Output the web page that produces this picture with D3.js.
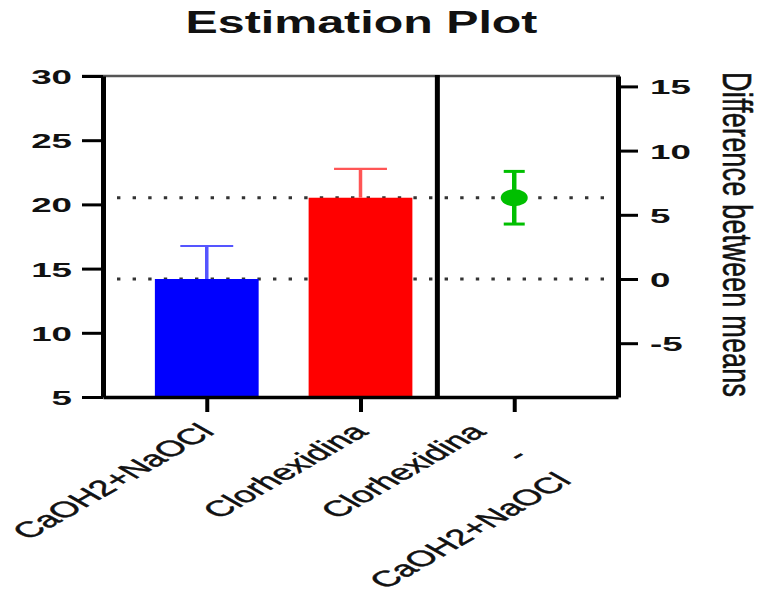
<!DOCTYPE html>
<html>
<head>
<meta charset="utf-8">
<script src="https://cdn.jsdelivr.net/npm/d3@7"></script>
<style>
  html, body { margin: 0; padding: 0; background: #fff; }
  svg { display: block; font-family: "Liberation Sans", Arial, Helvetica, sans-serif; }
</style>
</head>
<body>
<svg id="chart" width="762" height="604"></svg>
<script>
// Group summary values
const groups = ["CaOH2+NaOCl", "Clorhexidina"];
const groupMeans = [14.19, 20.52];
const groupErrors = [2.57, 2.24];
const groupColors = ["#0000ff", "#ff0000"];
const errorColors = ["#5555ff", "#ff5555"];

// Difference between means with its interval
const diffMean = 6.33;
const diffLow = 4.28;
const diffHigh = 8.38;
const diffColor = "#00bf00";

// Axis labels and ticks
const xLabels = [["CaOH2+NaOCl"], ["Clorhexidina"], ["Clorhexidina", "-", "CaOH2+NaOCl"]];
const leftTicks = [5, 10, 15, 20, 25, 30];
const rightTicks = [-5, 0, 5, 10, 15];
const titleText = "Estimation Plot";
const rightTitle = "Difference between means";

const svg = d3.select("#chart");
const pLeft = 103, pRight = 618, pTop = 76, pBottom = 397;

const yLeft = d3.scaleLinear().domain([5, 30]).range([pBottom, pTop]);
// right axis is zeroed on the first group's mean
const yRight = d3.scaleLinear()
  .domain([5 - groupMeans[0], 30 - groupMeans[0]])
  .range([pBottom, pTop]);
const x = d3.scalePoint().domain(d3.range(xLabels.length)).range([pLeft, pRight]).padding(0.675);
const barW = x.step() * 0.675;
const capW = barW * 0.51;

// horizontal stretch factors for the wide lettering
const tickStretch = 1.75, labelStretch = 1.74, titleStretch = 1.56, rightTitleStretch = 1.5;
const plainNumber = d => String(d);   // ASCII hyphen for negatives

// dotted reference lines at each group mean
svg.append("g").selectAll("line")
  .data(groupMeans)
  .join("line")
  .attr("x1", pLeft + 14).attr("x2", pRight)
  .attr("y1", d => yLeft(d)).attr("y2", d => yLeft(d))
  .attr("stroke", "#333").attr("stroke-width", 3)
  .attr("stroke-dasharray", "3.4 12.2");

// bars
svg.append("g").selectAll("rect")
  .data(groupMeans)
  .join("rect")
  .attr("x", (d, i) => x(i) - barW / 2)
  .attr("width", barW)
  .attr("y", d => yLeft(d))
  .attr("height", d => yLeft(5) - yLeft(d))
  .attr("fill", (d, i) => groupColors[i]);

// upper error bars
const eb = svg.append("g");
groupMeans.forEach((m, i) => {
  const cx = x(i);
  eb.append("line")
    .attr("x1", cx).attr("x2", cx)
    .attr("y1", yLeft(m)).attr("y2", yLeft(m + groupErrors[i]))
    .attr("stroke", errorColors[i]).attr("stroke-width", 3.5);
  eb.append("line")
    .attr("x1", cx - capW / 2).attr("x2", cx + capW / 2)
    .attr("y1", yLeft(m + groupErrors[i])).attr("y2", yLeft(m + groupErrors[i]))
    .attr("stroke", errorColors[i]).attr("stroke-width", 2.2);
});

// difference estimate with interval
const dX = x(2);
const dg = svg.append("g");
dg.append("line")
  .attr("x1", dX).attr("x2", dX)
  .attr("y1", yRight(diffLow)).attr("y2", yRight(diffHigh))
  .attr("stroke", diffColor).attr("stroke-width", 4.5);
[diffLow, diffHigh].forEach(v => {
  dg.append("line")
    .attr("x1", dX - 10.5).attr("x2", dX + 10.5)
    .attr("y1", yRight(v)).attr("y2", yRight(v))
    .attr("stroke", diffColor).attr("stroke-width", 3);
});
dg.append("ellipse")
  .attr("cx", dX).attr("cy", yRight(diffMean))
  .attr("rx", 13.5).attr("ry", 8.5)
  .attr("fill", diffColor);

// top frame line
svg.append("line")
  .attr("x1", pLeft - 21).attr("x2", pRight + 2)
  .attr("y1", pTop).attr("y2", pTop)
  .attr("stroke", "#555").attr("stroke-width", 2.5);

// divider between group panel and difference panel
const divX = (x(1) + x(2)) / 2;
svg.append("line")
  .attr("x1", divX).attr("x2", divX)
  .attr("y1", pTop - 1).attr("y2", pBottom)
  .attr("stroke", "#000").attr("stroke-width", 5);

function styleAxis(g, domainW, tickW) {
  g.select(".domain").attr("stroke", "#000").attr("stroke-width", domainW);
  g.selectAll(".tick line").attr("stroke", "#000").attr("stroke-width", tickW);
}

// left axis
const gLeft = svg.append("g")
  .attr("transform", `translate(${pLeft},0)`)
  .call(d3.axisLeft(yLeft).tickValues(leftTicks).tickFormat(plainNumber).tickSize(21).tickSizeOuter(0));
styleAxis(gLeft, 5, 3);
gLeft.selectAll(".tick text")
  .attr("x", 0).attr("dy", "0.36em")
  .attr("transform", `translate(-31,0) scale(${tickStretch},1)`)
  .attr("font-size", 21).attr("font-weight", "bold").attr("fill", "#111")
  .attr("font-family", "'Liberation Sans', Arial, sans-serif");

// right axis
const gRight = svg.append("g")
  .attr("transform", `translate(${pRight},0)`)
  .call(d3.axisRight(yRight).tickValues(rightTicks).tickFormat(plainNumber).tickSize(20).tickSizeOuter(0));
styleAxis(gRight, 5, 3);
gRight.selectAll(".tick text")
  .attr("x", 0).attr("dy", "0.36em")
  .attr("transform", `translate(32,0) scale(${tickStretch},1)`)
  .attr("font-size", 21).attr("font-weight", "bold").attr("fill", "#111")
  .attr("font-family", "'Liberation Sans', Arial, sans-serif");

// bottom axis
const gBottom = svg.append("g")
  .attr("transform", `translate(0,${pBottom})`)
  .call(d3.axisBottom(x).tickSize(15).tickSizeOuter(0).tickFormat(""));
styleAxis(gBottom, 3.5, 4);

// rotated category labels
const labelG = svg.append("g")
  .attr("font-size", 22).attr("fill", "#111")
  .attr("stroke", "#111").attr("stroke-width", 0.45);
xLabels.forEach((lines, i) => {
  const multi = lines.length > 1;
  const t = labelG.append("text")
    .attr("text-anchor", "end")
    .attr("transform", `translate(${x(i) + 9},433) scale(${labelStretch},1) rotate(-45)`);
  lines.forEach((s, j) => {
    t.append("tspan")
      .attr("x", multi ? -14.6 : 0)
      .attr("y", (multi ? -14.6 : 0) + j * 34.7)
      .text(s);
  });
});

// title
svg.append("text")
  .attr("text-anchor", "middle")
  .attr("transform", `translate(${(pLeft + pRight) / 2 + 1},33) scale(${titleStretch},1)`)
  .attr("font-size", 31).attr("font-weight", "bold").attr("fill", "#111")
  .text(titleText);

// right axis title
svg.append("text")
  .attr("transform", `translate(723,72) scale(${rightTitleStretch},1) rotate(90)`)
  .attr("font-size", 27).attr("fill", "#111")
  .attr("stroke", "#111").attr("stroke-width", 0.4)
  .attr("textLength", 325).attr("lengthAdjust", "spacing")
  .text(rightTitle);
</script>
</body>
</html>
